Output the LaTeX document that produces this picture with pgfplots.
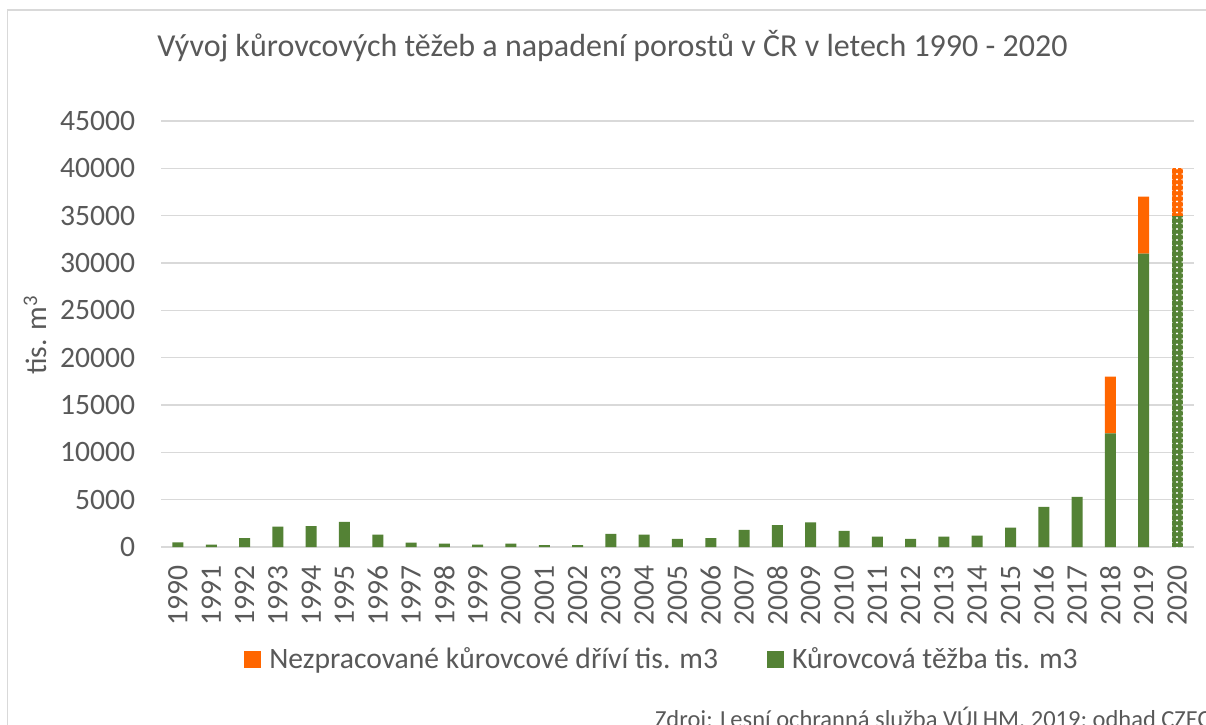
\documentclass[border=0pt]{standalone}
\usepackage{pgfplots}
\pgfplotsset{compat=1.18}
\usepackage{fontspec}
\setmainfont{Carlito}
\usetikzlibrary{patterns.meta}
\definecolor{barGreen}{HTML}{548235}
\definecolor{barOrange}{HTML}{FF6600}
\definecolor{txt}{HTML}{595959}
\definecolor{gridc}{HTML}{D9D9D9}
\newcommand{\fs}{\fontsize{29.6}{35}\selectfont}
\begin{document}
\begin{tikzpicture}
\path[use as bounding box] (0pt,0pt) rectangle (1206pt,724pt);
\clip (0pt,0pt) rectangle (1206pt,724pt);
\fill[white] (0pt,0pt) rectangle (1206pt,724pt);
\draw[gridc, line width=1.5pt] (7.5pt,-10pt) -- (7.5pt,714pt) -- (1230pt,714pt);
\begin{axis}[
  at={(161.3pt,177pt)}, anchor=south west,
  scale only axis, width=1032.4pt, height=426pt,
  ybar stacked, bar width=11pt,
  xmin=-0.5, xmax=30.5, ymin=0, ymax=45000,
  ytick={0,5000,...,45000},
  scaled y ticks=false,
  xtick={0,...,30},
  xticklabels={1990,1991,1992,1993,1994,1995,1996,1997,1998,1999,2000,2001,2002,2003,2004,2005,2006,2007,2008,2009,2010,2011,2012,2013,2014,2015,2016,2017,2018,2019,2020},
  major tick length=0pt,
  axis line style={draw=none},
  ymajorgrids, major grid style={draw=gridc, line width=1.4pt},
  /pgf/number format/assume math mode=true,
  /pgf/number format/1000 sep={},
  yticklabel style={font=\fs, text=txt, inner sep=0pt, anchor=east, xshift=-26pt},
  xticklabel style={yshift=-18pt, rotate=90, anchor=east, inner sep=0pt, font=\fs, text=txt},
  title={Vývoj kůrovcových těžeb a napadení porostů v ČR v letech 1990 - 2020},
  title style={at={(axis description cs:0.437,1.138)}, anchor=base, font=\fontsize{32}{38}\selectfont, text=txt, inner sep=0pt},
  ylabel={tis. m\textsuperscript{3}},
  ylabel style={at={(axis description cs:-0.1223,0.4977)}, rotate=0, anchor=center, font=\fs, text=txt},
  legend columns=2, reverse legend,
  legend style={at={(axis description cs:0.485,-0.263)}, anchor=center, draw=none, fill=none, font=\fs, text=txt,
    /tikz/every even column/.append style={column sep=47pt}},
  legend image code/.code={\fill[#1] (0pt,-8.5pt) rectangle (17pt,8.5pt);},
]
\addplot[fill=barGreen, draw=none] coordinates {
(0,500) (1,250) (2,950) (3,2150) (4,2200) (5,2650) (6,1300) (7,450) (8,350) (9,250)
(10,350) (11,200) (12,200) (13,1400) (14,1300) (15,850) (16,950) (17,1800) (18,2300) (19,2600)
(20,1700) (21,1100) (22,850) (23,1100) (24,1200) (25,2050) (26,4250) (27,5300) (28,12000) (29,31000) (30,0)};
\addplot[fill=barOrange, draw=none] coordinates {
(0,0) (1,0) (2,0) (3,0) (4,0) (5,0) (6,0) (7,0) (8,0) (9,0)
(10,0) (11,0) (12,0) (13,0) (14,0) (15,0) (16,0) (17,0) (18,0) (19,0)
(20,0) (21,0) (22,0) (23,0) (24,0) (25,0) (26,0) (27,0) (28,6000) (29,6000) (30,0)};
\addplot[fill=barGreen, draw=none, postaction={pattern={Dots[distance=5.5pt, radius=1.1pt]}, pattern color=white}] coordinates {
(0,0) (1,0) (2,0) (3,0) (4,0) (5,0) (6,0) (7,0) (8,0) (9,0)
(10,0) (11,0) (12,0) (13,0) (14,0) (15,0) (16,0) (17,0) (18,0) (19,0)
(20,0) (21,0) (22,0) (23,0) (24,0) (25,0) (26,0) (27,0) (28,0) (29,0) (30,35000)};
\addplot[fill=barOrange, draw=none, postaction={pattern={Dots[distance=5.5pt, radius=1.1pt]}, pattern color=white}] coordinates {
(0,0) (1,0) (2,0) (3,0) (4,0) (5,0) (6,0) (7,0) (8,0) (9,0)
(10,0) (11,0) (12,0) (13,0) (14,0) (15,0) (16,0) (17,0) (18,0) (19,0)
(20,0) (21,0) (22,0) (23,0) (24,0) (25,0) (26,0) (27,0) (28,0) (29,0) (30,5000)};
\legend{\hspace{6pt}Kůrovcová těžba tis. m3, \hspace{6pt}Nezpracované kůrovcové dříví tis. m3, , }
\end{axis}
\node[anchor=base west, inner sep=0pt, font=\fontsize{24.5}{29}\selectfont, text=txt] at (655pt,-3.7pt) {Zdroj: Lesní ochranná služba VÚLHM, 2019; odhad CZECH};
\end{tikzpicture}
\end{document}
